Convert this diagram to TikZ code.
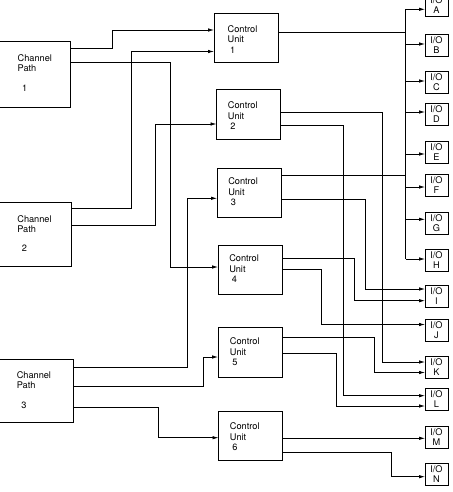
\documentclass[tikz,border=0pt]{standalone}
\usepackage{fontspec}
\newfontfamily\hv{TeX Gyre Heros}
\usetikzlibrary{arrows.meta}
\begin{document}
\begin{tikzpicture}[x=1pt,y=-1pt,line width=0.75pt,
  box/.style={draw, rectangle, inner sep=0pt, outer sep=0pt},
  cubox/.style={box, minimum width=64pt, minimum height=49.5pt},
  iobox/.style={box, minimum width=23pt, minimum height=22pt, align=center, font=\hv\fontsize{9.2}{10}\selectfont},
  lbl/.style={inner sep=0pt, anchor=north west, align=left},
  culbl/.style={lbl, font=\hv\fontsize{9.2}{10.5}\selectfont},
  cplbl/.style={lbl, font=\hv\fontsize{9.2}{10}\selectfont},
  conn/.style={draw},
  arr/.style={conn, -{Latex[length=6pt,width=3.5pt]}}
]
\useasboundingbox (0,0) rectangle (452,492);
\clip (0,0) rectangle (452,492);

% Channel paths
\node[box, minimum width=75pt, minimum height=66pt] (cp1) at (32.5,74) {};
\node[box, minimum width=76pt, minimum height=64pt] (cp2) at (33,234) {};
\node[box, minimum width=78pt, minimum height=63pt] (cp3) at (34,390.5) {};
\node[cplbl] (cp1t) at (17.3,54.3) {Channel\\Path\\[9.5pt]\hspace*{4.5pt}1};
\node[cplbl] (cp2t) at (17,215) {Channel\\Path\\[9.5pt]\hspace*{4.5pt}2};
\node[cplbl] (cp3t) at (16.4,371.7) {Channel\\Path\\[9.5pt]\hspace*{4.5pt}3};

% Control units
\node[cubox] (cu1) at (246,38) {};
\node[cubox] (cu2) at (248.5,114.5) {};
\node[cubox] (cu3) at (249,193) {};
\node[cubox] (cu4) at (250,270) {};
\node[cubox] (cu5) at (250,352.5) {};
\node[cubox] (cu6) at (250.5,436) {};
\node[culbl] (cu1t) at (227.3,25) {Control\\Unit\\\hspace*{2.5pt}1};
\node[culbl] (cu2t) at (227.6,101.7) {Control\\Unit\\\hspace*{2.5pt}2};
\node[culbl] (cu3t) at (227.9,177.3) {Control\\Unit\\\hspace*{2.5pt}3};
\node[culbl] (cu4t) at (228.9,254.3) {Control\\Unit\\\hspace*{2.5pt}4};
\node[culbl] (cu5t) at (229.6,337.3) {Control\\Unit\\\hspace*{2.5pt}5};
\node[culbl] (cu6t) at (229.6,422.3) {Control\\Unit\\\hspace*{2.5pt}6};

% I/O devices
\node[iobox] (ioA) at (436.5,5.5) {I/O\\A};
\node[iobox] (ioB) at (436.5,45) {I/O\\B};
\node[iobox] (ioC) at (436.5,82) {I/O\\C};
\node[iobox] (ioD) at (436.5,114) {I/O\\D};
\node[iobox] (ioE) at (436.5,152) {I/O\\E};
\node[iobox] (ioF) at (436.5,185) {I/O\\F};
\node[iobox] (ioG) at (436.5,223) {I/O\\G};
\node[iobox] (ioH) at (436.5,260.5) {I/O\\H};
\node[iobox] (ioI) at (436.5,296.5) {I/O\\I};
\node[iobox] (ioJ) at (436.5,330) {I/O\\J};
\node[iobox] (ioK) at (436.5,367) {I/O\\K};
\node[iobox] (ioL) at (436.5,399) {I/O\\L};
\node[iobox] (ioM) at (436.5,437.5) {I/O\\M};
\node[iobox] (ioN) at (436.5,474) {I/O\\N};

% Channel paths to control units
\draw[arr] (cp1.east |- 0,48) -- (112,48) |- (cu1.west |- 0,30);
\draw[arr] (cp1.east |- 0,62) -- (170.3,62) |- (cu4.west |- 0,267);
\draw[arr] (cp2.east |- 0,208) -- (131.3,208) |- (cu1.west |- 0,51.5);
\draw[arr] (cp2.east |- 0,225) -- (155.7,225) |- (cu2.west |- 0,124);
\draw[arr] (cp3.east |- 0,367) -- (187.7,367) |- (cu3.west |- 0,198.3);
\draw[arr] (cp3.east |- 0,386) -- (203.7,386) |- (cu5.west |- 0,357);
\draw[arr] (cp3.east |- 0,407) -- (158.3,407) |- (cu6.west |- 0,437.7);

% Bus from CU1 and CU3
\coordinate (bustop) at (405.5,9.3);
\coordinate (busbot) at (405.5,259);
\draw[conn] (bustop) -- (busbot);
\draw[conn] (cu1.east |- 0,32.7) -- (bustop |- 0,32.7);
\draw[conn] (cu3.east |- 0,175) -- (bustop |- 0,175);
\foreach \n/\y in {A/9.3,B/44,C/81,D/112,E/154,F/187,G/219.3,H/259}
  \draw[arr] (bustop |- 0,\y) -- (io\n.west |- 0,\y);

% Other control unit links
\draw[arr] (cu2.east |- 0,112) -- (382.5,112) |- (ioK.west |- 0,362);
\draw[arr] (cu2.east |- 0,125) -- (343.3,125) |- (ioL.west |- 0,395.7);
\draw[arr] (cu3.east |- 0,199.3) -- (365.7,199.3) |- (ioI.west |- 0,289);
\draw[arr] (cu4.east |- 0,258.3) -- (354.3,258.3) |- (ioI.west |- 0,300.7);
\draw[arr] (cu4.east |- 0,269.3) -- (321.7,269.3) |- (ioJ.west |- 0,324.5);
\draw[arr] (cu5.east |- 0,337.3) -- (374,337.3) |- (ioK.west |- 0,372.5);
\draw[arr] (cu5.east |- 0,353.3) -- (336,353.3) |- (ioL.west |- 0,406);
\draw[arr] (cu6.east |- 0,438.3) -- (ioM.west |- 0,438.3);
\draw[arr] (cu6.east |- 0,452.7) -- (391.7,452.7) |- (ioN.west |- 0,476.7);
\end{tikzpicture}
\end{document}
